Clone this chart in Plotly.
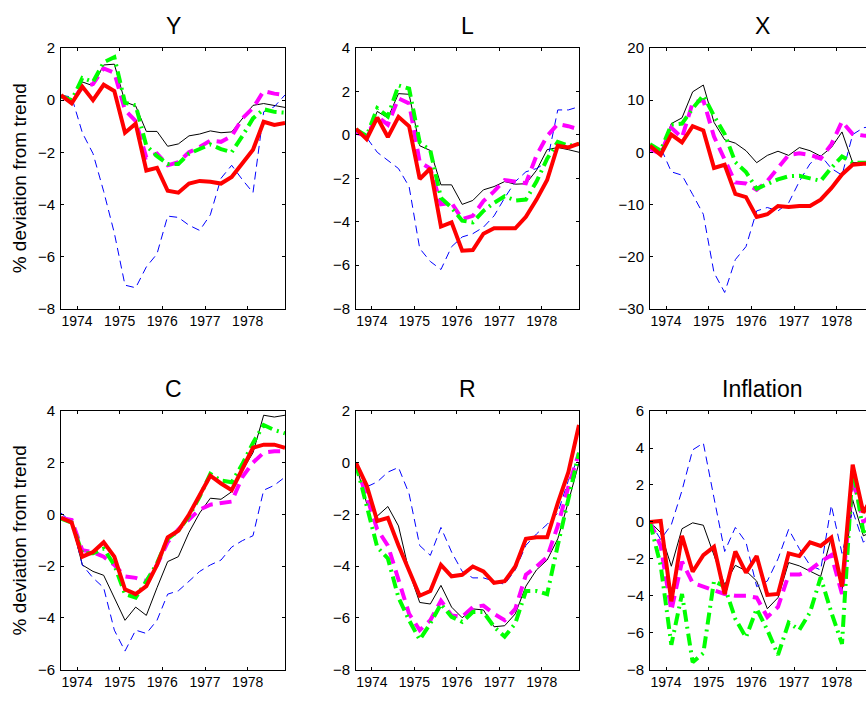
import plotly.graph_objects as go

# ---------------- data ----------------
quarters = [1973.625, 1973.875, 1974.125, 1974.375, 1974.625, 1974.875,
            1975.125, 1975.375, 1975.625, 1975.875, 1976.125, 1976.375,
            1976.625, 1976.875, 1977.125, 1977.375, 1977.625, 1977.875,
            1978.125, 1978.375, 1978.625, 1978.875]
year_ticks = [1974, 1975, 1976, 1977, 1978]
panel_titles = ["Y", "L", "X", "C", "R", "Inflation"]
y_label = "% deviation from trend"

Y_black = [0.12, -0.1, 0.7, 0.55, 1.35, 1.38, -0.07, -0.22, -1.2, -1.2, -1.77, -1.68, -1.37, -1.3, -1.18, -1.25, -1.22, -0.7, -0.2, -0.13, -0.2, -0.28]
Y_blue = [0.19, 0.12, -1.25, -2.05, -3.5, -5.1, -7.1, -7.2, -6.4, -5.9, -4.45, -4.5, -4.8, -5.0, -4.4, -3.0, -2.5, -3.05, -3.55, -0.45, -0.25, 0.2]
Y_magenta = [0.15, -0.05, 0.5, 0.62, 1.22, 1.05, -0.38, -0.8, -2.2, -2.05, -2.5, -2.38, -2.0, -1.8, -1.55, -1.6, -1.38, -0.7, -0.3, 0.35, 0.25, 0.19]
Y_green = [0.15, 0.0, 0.85, 0.7, 1.45, 1.65, -0.1, -0.2, -1.75, -2.15, -2.45, -2.45, -2.05, -1.88, -1.7, -1.88, -2.0, -1.38, -0.7, -0.35, -0.45, -0.48]
Y_red = [0.19, -0.12, 0.52, 0.0, 0.59, 0.35, -1.25, -0.9, -2.7, -2.6, -3.48, -3.55, -3.2, -3.1, -3.13, -3.2, -2.95, -2.45, -1.9, -0.83, -0.95, -0.88]

L_black = [0.25, -0.05, 1.08, 0.78, 1.9, 1.87, -0.5, -0.72, -2.3, -2.3, -3.2, -3.02, -2.53, -2.38, -2.15, -2.27, -2.25, -1.63, -0.68, -0.58, -0.68, -0.8]
L_blue = [0.1, -0.12, -0.8, -1.18, -1.55, -2.38, -5.23, -5.83, -6.2, -5.15, -4.7, -4.55, -4.25, -3.73, -2.9, -2.15, -1.7, -1.55, -1.25, 1.15, 1.15, 1.3]
L_magenta = [0.1, -0.05, 0.85, 0.47, 1.68, 1.45, -1.25, -1.55, -3.2, -3.13, -3.88, -3.73, -3.05, -2.6, -2.08, -2.15, -2.23, -0.95, -0.05, 0.5, 0.4, 0.25]
L_green = [0.25, -0.05, 1.23, 0.85, 2.28, 2.13, -0.35, -0.72, -2.9, -3.35, -3.95, -4.03, -3.5, -3.13, -2.83, -3.02, -2.98, -2.15, -1.1, -0.32, -0.5, -0.42]
L_red = [0.28, -0.2, 0.8, -0.1, 0.83, 0.4, -2.03, -1.55, -4.22, -4.03, -5.33, -5.3, -4.55, -4.3, -4.3, -4.3, -3.77, -2.98, -2.08, -0.5, -0.58, -0.4]

X_black = [0.9, 0.1, 5.5, 6.6, 11.6, 12.9, 5.75, 2.4, 1.75, 0.3, -2.0, -0.6, 0.2, -0.6, 0.9, 0.3, -0.75, 0.9, 3.9, -2.0, -2.0, -2.0]
X_blue = [0.6, 0.9, -3.75, -4.4, -8.1, -11.9, -23.1, -26.9, -20.6, -18.1, -11.25, -10.6, -11.25, -9.7, -5.6, -2.2, -0.6, -3.1, -4.4, 3.4, 4.7, 5.0]
X_magenta = [0.6, -0.3, 4.7, 2.8, 9.5, 10.0, 3.0, -1.5, -5.8, -6.0, -7.2, -5.5, -3.0, -0.5, -0.2, -0.5, -1.2, 1.5, 5.9, 3.5, 3.2, 3.0]
X_green = [1.55, 0.3, 5.3, 5.5, 8.4, 10.9, 7.0, 3.5, -1.9, -3.8, -7.0, -6.0, -5.2, -4.6, -4.5, -5.0, -5.5, -3.0, -0.8, -2.0, -2.0, -2.0]
X_red = [1.25, -0.5, 3.4, 1.9, 5.0, 4.2, -3.0, -2.4, -8.0, -8.6, -12.4, -11.9, -10.3, -10.5, -10.3, -10.3, -9.1, -6.9, -4.25, -2.4, -2.2, -2.2]

C_black = [-0.13, -0.31, -1.95, -2.2, -2.35, -3.2, -4.09, -3.58, -3.9, -2.83, -1.82, -1.63, -0.69, 0.06, 0.63, 0.59, 0.88, 1.7, 2.39, 3.84, 3.77, 3.84]
C_blue = [0.06, -0.31, -1.95, -2.45, -2.83, -4.47, -5.28, -4.47, -4.6, -4.09, -3.08, -2.95, -2.58, -2.2, -1.95, -1.76, -1.26, -1.01, -0.82, 0.94, 1.13, 1.45]
C_magenta = [-0.13, -0.21, -1.38, -1.45, -1.63, -1.95, -2.39, -2.45, -2.58, -1.95, -1.07, -0.57, -0.19, 0.19, 0.38, 0.44, 0.5, 1.45, 2.01, 2.39, 2.45, 2.45]
C_green = [-0.16, -0.31, -1.5, -1.5, -1.32, -1.95, -3.08, -3.21, -2.58, -1.89, -0.94, -0.63, -0.06, 0.69, 1.57, 1.32, 1.25, 1.95, 2.77, 3.46, 3.27, 3.14]
C_red = [-0.13, -0.31, -1.63, -1.45, -1.07, -1.63, -2.89, -3.08, -2.77, -1.95, -0.88, -0.63, 0.0, 0.72, 1.5, 1.2, 0.94, 1.76, 2.58, 2.7, 2.7, 2.58]

R_black = [-0.05, -1.56, -2.06, -1.69, -2.44, -4.2, -5.4, -5.46, -4.74, -5.58, -5.99, -5.65, -5.69, -6.34, -6.3, -5.84, -4.77, -4.14, -3.76, -2.94, -1.5, 0.0]
R_blue = [-0.05, -0.93, -0.74, -0.36, -0.18, -1.2, -3.2, -3.58, -2.5, -3.45, -4.2, -4.45, -4.45, -4.58, -4.7, -4.14, -3.19, -2.75, -2.38, -1.94, -0.68, 0.26]
R_magenta = [-0.05, -1.37, -2.57, -3.2, -4.58, -5.84, -6.47, -6.09, -5.33, -5.9, -5.96, -5.58, -5.52, -5.84, -6.09, -5.65, -4.33, -4.01, -3.64, -2.44, -0.93, 0.39]
R_green = [-0.05, -1.69, -3.26, -3.7, -5.21, -6.09, -6.84, -6.21, -5.46, -5.96, -6.15, -5.77, -5.77, -6.34, -6.72, -6.21, -4.96, -4.96, -5.08, -3.19, -1.31, 0.39]
R_red = [0.0, -0.87, -2.25, -2.13, -3.2, -4.2, -5.14, -4.96, -3.95, -4.39, -4.33, -4.01, -4.2, -4.64, -4.58, -4.01, -2.94, -2.88, -2.88, -1.56, -0.36, 1.46]

Inf_black = [0.0, -0.58, -2.4, -0.37, -0.05, -0.18, -1.8, -3.4, -2.35, -2.65, -3.2, -4.7, -4.1, -2.2, -2.38, -2.65, -2.95, -0.85, -3.8, 1.2, -0.75, -0.5]
Inf_blue = [0.0, -0.95, -0.15, 1.7, 3.9, 4.27, 1.3, -1.6, -0.3, -1.1, -3.5, -3.2, -2.0, -0.4, -1.45, -2.35, -2.6, 0.9, -1.7, 0.6, -1.1, -0.5]
Inf_magenta = [0.0, -1.3, -4.8, -2.15, -3.3, -3.5, -3.75, -3.9, -4.0, -4.0, -4.1, -5.15, -4.6, -2.85, -2.85, -2.6, -2.15, -1.8, -3.9, 2.4, 0.0, 0.5]
Inf_green = [-0.05, -2.35, -6.65, -3.9, -7.6, -7.1, -3.2, -3.5, -5.25, -6.25, -4.7, -5.85, -7.2, -5.45, -5.85, -4.9, -3.0, -4.9, -6.6, 2.95, -0.55, 0.0]
Inf_red = [0.0, 0.05, -4.3, -0.75, -2.7, -1.8, -1.35, -3.9, -1.6, -2.75, -1.85, -3.95, -3.9, -1.7, -1.85, -1.1, -1.3, -0.85, -3.5, 3.1, 0.5, 1.5]

panels = [
    [Y_black, Y_blue, Y_magenta, Y_green, Y_red],
    [L_black, L_blue, L_magenta, L_green, L_red],
    [X_black, X_blue, X_magenta, X_green, X_red],
    [C_black, C_blue, C_magenta, C_green, C_red],
    [R_black, R_blue, R_magenta, R_green, R_red],
    [Inf_black, Inf_blue, Inf_magenta, Inf_green, Inf_red],
]
y_ranges = [(-8, 2), (-8, 4), (-30, 20), (-6, 4), (-8, 2), (-8, 6)]
y_dticks = [2, 2, 10, 2, 2, 2]

# ---------------- styles / layout ----------------
W, H = 866, 706
styles = [
    dict(color="#000000", width=1, dash="solid"),
    dict(color="#0000ff", width=1, dash="8px,5px"),
    dict(color="#ff00ff", width=4, dash="12px,7px"),
    dict(color="#00ff00", width=4, dash="12px,5px,2px,5px"),
    dict(color="#ff0000", width=4, dash="solid"),
]
col_px = [(61, 285), (356, 579), (650, 874)]
row_px = [(40, 307), (412, 677)]
FONT = "Liberation Sans, Arial, Helvetica, sans-serif"

fig = go.Figure()
annotations = []
for k in range(6):
    r, c = divmod(k, 3)
    ax = "" if k == 0 else str(k + 1)
    x0, x1 = col_px[c]
    y0, y1 = row_px[r]
    xr0 = quarters[0]
    xr1 = quarters[-1]
    dom_x1 = x1 / W
    if x1 > W:
        span = (quarters[-1] - quarters[0])
        xr1 = quarters[0] + span * (W - x0) / (x1 - x0)
        dom_x1 = 1.0
    for series, st in zip(panels[k], styles):
        fig.add_trace(go.Scatter(x=quarters, y=series, mode="lines",
                                 line=dict(color=st["color"], width=st["width"], dash=st["dash"]),
                                 xaxis="x" + ax, yaxis="y" + ax, showlegend=False,
                                 hoverinfo="skip"))
    common = dict(showline=True, linecolor="black", linewidth=1, ticks="inside",
                  ticklen=3, tickcolor="black", showgrid=False, zeroline=False)
    fig.layout["xaxis" + ax] = dict(domain=[x0 / W, dom_x1], range=[xr0, xr1],
                                    tickvals=year_ticks, ticktext=[str(t) for t in year_ticks],
                                    mirror="ticks", anchor="y" + ax,
                                    tickfont=dict(size=14, color="black", family=FONT), **common)
    fig.layout["yaxis" + ax] = dict(domain=[1 - y1 / H, 1 - y0 / H], range=list(y_ranges[k]),
                                    dtick=y_dticks[k], tick0=0,
                                    mirror=("ticks" if x1 <= W else False), anchor="x" + ax,
                                    ticklabelstandoff=2,
                                    tickfont=dict(size=15, color="black", family=FONT), **common)
    annotations.append(dict(text=panel_titles[k], xref="paper", yref="paper",
                            x=((x0 + x1) / 2) / W, y=1 - (y0 - 23) / H,
                            xanchor="center", yanchor="middle", showarrow=False,
                            font=dict(size=23, color="black", family=FONT)))
    if c == 0:
        annotations.append(dict(text=y_label, xref="paper", yref="paper",
                                x=19 / W, y=1 - ((y0 + y1) / 2) / H, textangle=-90,
                                xanchor="center", yanchor="middle", showarrow=False,
                                font=dict(size=19, color="black", family=FONT)))

fig.update_layout(width=W, height=H, margin=dict(l=0, r=0, t=0, b=0),
                  paper_bgcolor="white", plot_bgcolor="white",
                  annotations=annotations, font=dict(family=FONT, color="black"))

fig.write_html("out.html", include_plotlyjs=True, config={"displayModeBar": False})
